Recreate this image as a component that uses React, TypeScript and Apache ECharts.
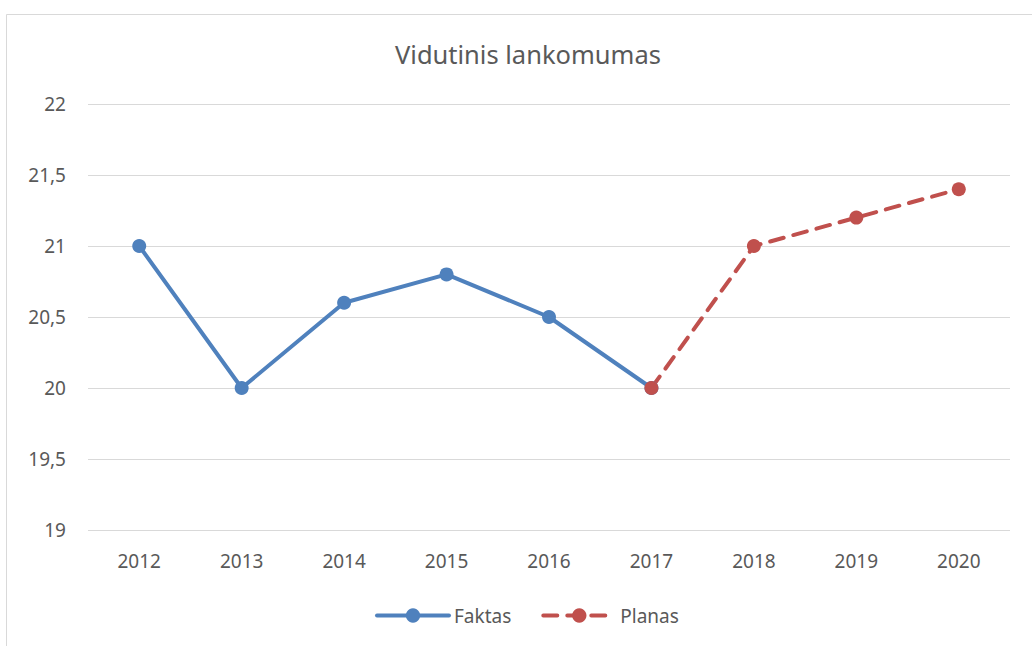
import React, { useEffect, useRef } from "react";
import * as echarts from "echarts";

const title = "Vidutinis lankomumas";
const years = ["2012", "2013", "2014", "2015", "2016", "2017", "2018", "2019", "2020"];
const faktas = [21, 20, 20.6, 20.8, 20.5, 20, null, null, null];
const planas = [null, null, null, null, null, 20, 21, 21.2, 21.4];

export default function App() {
  const ref = useRef<HTMLDivElement>(null);
  useEffect(() => {
    if (!ref.current) return;
    const chart = echarts.init(ref.current, null, { renderer: "svg" });
    const font = "'Noto Sans', sans-serif";
    chart.setOption({
      animation: false,
      backgroundColor: "#ffffff",
      title: {
        text: title,
        left: 390,
        top: 36,
        textStyle: { fontFamily: font, fontSize: 25.5, fontWeight: "normal", color: "#595959" },
      },
      graphic: [
        {
          type: "rect",
          shape: { x: 6.5, y: 14.5, width: 1040, height: 700 },
          style: { fill: "none", stroke: "#d9d9d9", lineWidth: 1 },
          silent: true,
        },
      ],
      grid: { left: 88, right: 22, top: 104, bottom: 116, containLabel: false },
      legend: {
        top: 601,
        left: 370,
        itemWidth: 72,
        itemHeight: 18,
        itemGap: 30,
        textStyle: { fontFamily: font, fontSize: 19, color: "#595959" },
        lineStyle: { width: 4 },
        data: ["Faktas", "Planas"],
      },
      xAxis: {
        type: "category",
        data: years,
        boundaryGap: true,
        axisLine: { show: false },
        axisTick: { show: false },
        axisLabel: { fontFamily: font, fontSize: 19, color: "#595959", margin: 21 },
      },
      yAxis: {
        type: "value",
        min: 19,
        max: 22,
        interval: 0.5,
        axisLine: { show: false },
        axisTick: { show: false },
        splitLine: { lineStyle: { color: "#d9d9d9", width: 1 } },
        axisLabel: {
          fontFamily: font,
          fontSize: 19,
          color: "#595959",
          margin: 22,
          formatter: (v: number) => String(v).replace(".", ","),
        },
      },
      series: [
        {
          name: "Faktas",
          type: "line",
          data: faktas,
          symbol: "circle",
          symbolSize: 14,
          itemStyle: { color: "#4f81bd" },
          lineStyle: { color: "#4f81bd", width: 4, cap: "round", join: "round" },
        },
        {
          name: "Planas",
          type: "line",
          data: planas,
          symbol: "circle",
          symbolSize: 14,
          itemStyle: { color: "#c0504d" },
          lineStyle: { color: "#c0504d", width: 4, type: [14, 10], cap: "round" },
        },
      ],
    });
    return () => chart.dispose();
  }, []);
  return (
    <div
      ref={ref}
      style={{ position: "absolute", left: 0, top: 0, width: 1032, height: 646 }}
    />
  );
}
